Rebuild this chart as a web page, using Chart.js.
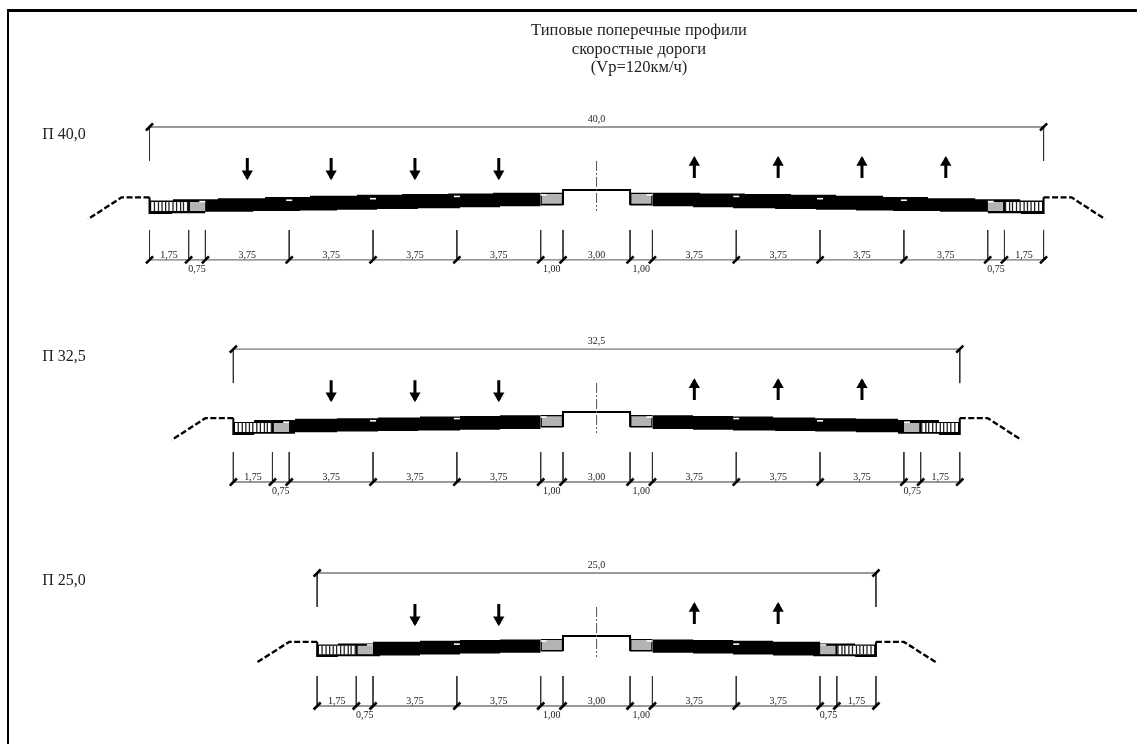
<!DOCTYPE html>
<html lang="ru">
<head>
<meta charset="utf-8">
<title>Типовые поперечные профили</title>
<script src="https://cdn.jsdelivr.net/npm/chart.js@4/dist/chart.umd.min.js"></script>
<style>
html, body { margin: 0; padding: 0; background: #fff; overflow: hidden; }
#sheet { position: relative; width: 1137px; height: 744px; }
#sheet canvas { display: block; }
#frame { position: absolute; left: 7px; top: 9px; right: 0; bottom: 0; border-left: 2px solid #000; border-top: 3px solid #000; pointer-events: none; }
</style>
</head>
<body>
<div id="sheet">
  <canvas id="profiles" width="1137" height="744"></canvas>
  <div id="frame"></div>
</div>
<script>
// all distances in metres from the road axis, drops in metres below the median crest
const titleLines = ['Типовые поперечные профили', 'скоростные дороги', '(Vp=120км/ч)'];
const profileNames = ['П 40,0', 'П 32,5', 'П 25,0'];
const totalWidths = [40.0, 32.5, 25.0];
const laneCounts = [4, 3, 2];
const crestLevels = [24.79, 14.85, 4.83];

const medianWidth = 3.0;
const stripWidth = 1.0;
const laneWidth = 3.75;
const edgeStripWidth = 0.75;
const shoulderWidth = 1.75;

const topStations = [
  [20.0, 18.95, 16.94, 14.83, 12.82, 10.72, 8.7, 6.64, 4.63, 2.5],
  [16.25, 15.32, 13.49, 11.61, 9.78, 7.9, 6.11, 4.32, 2.5],
  [12.5, 11.57, 10.0, 7.9, 6.11, 4.32, 2.5]
];
const topDrops = [
  [0.47, 0.42, 0.37, 0.32, 0.26, 0.21, 0.18, 0.16, 0.12],
  [0.44, 0.35, 0.30, 0.27, 0.24, 0.20, 0.17, 0.14],
  [0.38, 0.33, 0.25, 0.21, 0.18, 0.15]
];
const bottomStations = [
  [20.0, 18.99, 17.51, 15.36, 13.27, 11.61, 9.82, 7.99, 6.11, 4.32, 2.5],
  [16.25, 15.32, 13.49, 11.61, 9.78, 7.99, 6.11, 4.32, 2.5],
  [12.5, 11.57, 9.69, 7.9, 6.11, 4.32, 2.5]
];
const bottomDrops = [
  [1.08, 1.04, 0.98, 0.94, 0.92, 0.88, 0.85, 0.82, 0.77, 0.73],
  [1.02, 0.97, 0.90, 0.87, 0.84, 0.82, 0.79, 0.75],
  [0.94, 0.90, 0.87, 0.82, 0.78, 0.75]
];

const shoulderTops = [0.54, 0.49, 0.43];
const shoulderBottoms = [0.94, 0.89, 0.81];
const hatchOffsets = [0.22, 0.40, 0.56, 0.72, 0.87, 1.05, 1.21, 1.39, 1.52, 1.70];

const slopeOffsets = [0, 1.25, 2.76];
const slopeDrops = [
  [0.33, 0.33, 1.31],
  [0.27, 0.27, 1.25],
  [0.26, 0.26, 1.22]
];

const laneMarkStations = [[13.75, 10.0, 6.25], [10.0, 6.25], [6.25]];
const laneMarkDrops = [[0.46, 0.39, 0.29], [0.39, 0.29], [0.36]];
const stripMarkDrops = [0.52, 0.45, 0.40];

const innerStripTop = 0.13;
const innerGreyTop = 0.18;
const innerStripBottom = 0.67;

const overallDimDrop = -2.82;
const overallExtDrop = -1.30;
const arrowTopDrop = -1.43;
const arrowBottomDrop = -0.54;
const axisTopDrop = -1.30;
const axisBottomDrop = 0.94;
const extTopDrop = 1.79;
const partDimDrop = 3.13;
const overallLabelDrop = -3.18;
const partLabelDrop = 2.91;
const lowLabelDrop = 3.56;
const nameOffset = -23.83;
const nameDrop = -2.46;

const metresPerCanvas = { xMin: -26.69, xMax: 24.18, yMax: 33.29 };

const datasets = [];
const texts = [];

function add(ds) {
  // later datasets paint over earlier ones
  datasets.push(Object.assign({ showLine: true, pointRadius: 0, borderWidth: 0, borderColor: 'transparent', fill: false }, ds, { order: -datasets.length }));
}

function stepped(stations, drops, level, sign) {
  const pts = [];
  drops.forEach((d, i) => {
    pts.push({ x: sign * stations[i], y: level - d });
    pts.push({ x: sign * stations[i + 1], y: level - d });
  });
  return sign > 0 ? pts.reverse() : pts;
}

function band(top, bottom, color) {
  add({ data: top, fill: '+1', backgroundColor: color });
  add({ data: bottom });
}

function rect(x0, x1, yTop, yBottom, color) {
  band([{ x: x0, y: yTop }, { x: x1, y: yTop }], [{ x: x0, y: yBottom }, { x: x1, y: yBottom }], color);
}

function drawSide(p, sign) {
  const level = crestLevels[p];
  const half = totalWidths[p] / 2;
  const hatchOuter = half - 0.07;
  const hatchInner = half - shoulderWidth;
  const greyInner = hatchInner - edgeStripWidth;

  // shoulder slope
  const slope = slopeOffsets.map((o, i) => ({ x: sign * (half + o), y: level - slopeDrops[p][i] }));
  add({ data: slope, borderColor: '#000', borderWidth: 2.4, borderDash: [6, 2.5] });

  // carriageway
  band(stepped(topStations[p], topDrops[p], level, sign), stepped(bottomStations[p], bottomDrops[p], level, sign), '#000');

  // shoulder and edge strip
  const yT = level - shoulderTops[p];
  const yB = level - shoulderBottoms[p];
  const sorted = (a, b) => sign > 0 ? [b, a] : [-a, -b];
  const [sx0, sx1] = sorted(hatchOuter, hatchInner + 0.02);
  rect(sx0, sx1, yT, yB, '#fff');
  const hatch = [];
  hatchOffsets.forEach(o => {
    hatch.push({ x: sign * (half - o), y: yT }, { x: sign * (half - o), y: yB }, { x: sign * (half - o), y: null });
  });
  add({ data: hatch, borderColor: '#222', borderWidth: 1.3, spanGaps: false });
  const [gx0, gx1] = sorted(hatchInner - 0.05, greyInner);
  rect(gx0, gx1, yT, yB, '#b4b4b4');

  // outer wall
  add({ data: [{ x: sign * half, y: level - slopeDrops[p][0] }, { x: sign * half, y: level - bottomDrops[p][0] }], borderColor: '#000', borderWidth: 2 });

  // strip beside the median
  const outer = medianWidth / 2 + stripWidth;
  const inner = medianWidth / 2;
  const [bx0, bx1] = sorted(outer + 0.01, inner);
  rect(bx0, bx1, level - innerStripTop, level - innerStripBottom - 0.02, '#000');
  const [ix0, ix1] = sorted(outer - 0.04, inner + 0.05);
  rect(ix0, ix1, level - innerGreyTop, level - innerStripBottom + 0.05, '#b4b4b4');

  // pavement marks
  const marks = laneMarkStations[p].map((d, i) => ({ x: sign * d, y: level - laneMarkDrops[p][i] }));
  marks.push({ x: sign * (greyInner + 0.14), y: level - stripMarkDrops[p] });
  marks.push({ x: sign * (outer - 0.13), y: level - (innerGreyTop + 0.04) });
  add({ data: marks, showLine: false, pointStyle: 'line', pointRadius: 3, pointBorderWidth: 1.6, pointBorderColor: '#fff' });

  // direction arrows: left side runs down, right side runs up
  for (let i = 0; i < laneCounts[p]; i++) {
    const d = outer + laneWidth * (i + 0.5);
    add({ data: [{ x: sign * d, y: level - arrowTopDrop }, { x: sign * d, y: level - arrowBottomDrop }], borderColor: '#000', borderWidth: 3 });
    add({
      data: [{ x: sign * d, y: sign < 0 ? level - arrowBottomDrop + 0.19 : level - arrowTopDrop - 0.2 }],
      showLine: false, pointStyle: 'triangle', pointRadius: 6.5, pointRotation: sign < 0 ? 180 : 0,
      pointBackgroundColor: '#000', pointBorderColor: '#000', pointBorderWidth: 0
    });
  }

  // overall extension line
  add({ data: [{ x: sign * half, y: level - overallDimDrop }, { x: sign * half, y: level - overallExtDrop }], borderColor: '#333', borderWidth: 1 });
}

function drawProfile(p) {
  const level = crestLevels[p];
  const half = totalWidths[p] / 2;
  drawSide(p, -1);
  drawSide(p, 1);

  // median outline and axis
  const inner = medianWidth / 2;
  add({ data: [
    { x: -inner, y: level - innerStripBottom }, { x: -inner, y: level },
    { x: inner, y: level }, { x: inner, y: level - innerStripBottom }
  ], borderColor: '#000', borderWidth: 2 });
  add({ data: [{ x: 0, y: level - axisTopDrop }, { x: 0, y: level - axisBottomDrop }], borderColor: '#555', borderWidth: 1, borderDash: [10, 2, 2, 2] });

  // overall dimension
  const tick = { pointStyle: 'line', pointRadius: 5, pointRotation: -45, pointBorderColor: '#000', pointBorderWidth: 2.6 };
  add(Object.assign({ data: [{ x: -half, y: level - overallDimDrop }, { x: half, y: level - overallDimDrop }], borderColor: '#777', borderWidth: 1.4 }, tick));
  texts.push({ text: totalWidths[p].toFixed(1).replace('.', ','), x: 0, y: level - overallLabelDrop, size: 10 });

  // part dimensions
  const lanes = new Array(laneCounts[p]).fill(laneWidth);
  const parts = [shoulderWidth, edgeStripWidth, ...lanes, stripWidth, medianWidth, stripWidth, ...lanes, edgeStripWidth, shoulderWidth];
  let x = -half;
  const stations = [{ x, y: level - partDimDrop }];
  add({ data: [{ x, y: level - extTopDrop }, { x, y: level - partDimDrop }], borderColor: '#333', borderWidth: 1 });
  parts.forEach(w => {
    const low = w <= stripWidth;
    texts.push({ text: w.toFixed(2).replace('.', ','), x: x + w / 2, y: level - (low ? lowLabelDrop : partLabelDrop), size: 10 });
    x += w;
    stations.push({ x, y: level - partDimDrop });
    add({ data: [{ x, y: level - extTopDrop }, { x, y: level - partDimDrop }], borderColor: '#333', borderWidth: 1 });
  });
  add(Object.assign({ data: stations, borderColor: '#777', borderWidth: 1.4 }, tick));

  texts.push({ text: profileNames[p], x: nameOffset, y: level - nameDrop, size: 16 });
}

profileNames.forEach((_, p) => drawProfile(p));

const sheetText = {
  id: 'sheetText',
  afterDatasetsDraw(chart) {
    const { ctx, scales } = chart;
    ctx.save();
    ctx.fillStyle = '#222';
    ctx.textAlign = 'center';
    ctx.textBaseline = 'middle';
    texts.forEach(t => {
      ctx.font = t.size + 'px "Liberation Serif"';
      ctx.fillText(t.text, scales.x.getPixelForValue(t.x), scales.y.getPixelForValue(t.y));
    });
    ctx.font = '16.5px "Liberation Serif"';
    titleLines.forEach((line, i) => ctx.fillText(line, 639, 31 + i * 18.2));
    ctx.restore();
  }
};

new Chart('profiles', {
  type: 'scatter',
  data: { datasets },
  options: {
    responsive: false,
    animation: false,
    events: [],
    layout: { padding: 0, autoPadding: false },
    plugins: { legend: { display: false }, tooltip: { enabled: false }, title: { display: false } },
    scales: {
      x: { type: 'linear', display: false, min: metresPerCanvas.xMin, max: metresPerCanvas.xMax },
      y: { type: 'linear', display: false, min: 0, max: metresPerCanvas.yMax }
    }
  },
  plugins: [sheetText]
});
</script>
</body>
</html>
